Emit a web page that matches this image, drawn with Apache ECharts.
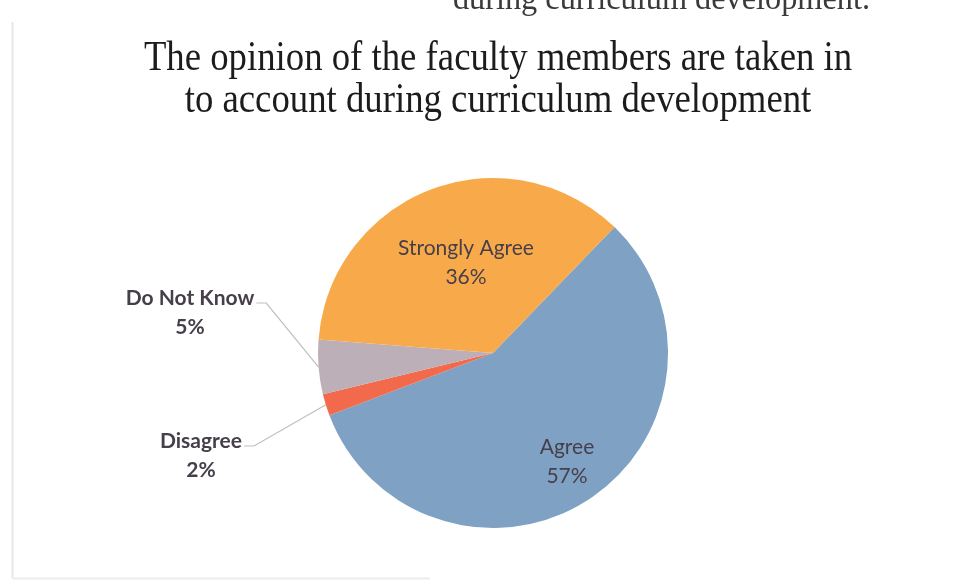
<!DOCTYPE html>
<html>
<head>
<meta charset="utf-8">
<script src="https://cdn.jsdelivr.net/npm/echarts@6/dist/echarts.min.js"></script>
<style>
  html, body { margin: 0; padding: 0; background: #ffffff; }
  #chart { width: 958px; height: 584px; }
</style>
</head>
<body>
<div id="chart"></div>
<script>
// Survey responses, in clockwise drawing order
const categories = ['Agree', 'Disagree', 'Do Not Know', 'Strongly Agree'];
const percentages = [57, 2, 5, 36];
const sliceColors = ['#7fa1c3', '#f2694c', '#bcafb7', '#f8aa4b'];
const titleLines = [
  'The opinion of the faculty members are taken in',
  'to account during curriculum development'
];
const captionAbove = 'during curriculum development.';

// Where each label sits and whether it is drawn inside the slice
const labelSpots = {
  'Agree':          { x: 567, y: 462, inside: true },
  'Strongly Agree': { x: 466, y: 263, inside: true },
  'Do Not Know':    { x: 190, y: 313, inside: false },
  'Disagree':       { x: 201, y: 456, inside: false }
};

const chart = echarts.init(document.getElementById('chart'), null, { renderer: 'canvas' });

const labelFont = 'Lato, "Open Sans", sans-serif';
const serifFont = '"Liberation Serif", "Times New Roman", serif';

const pieData = categories.map((name, i) => {
  const spot = labelSpots[name];
  return {
    name: name,
    value: percentages[i],
    itemStyle: { color: sliceColors[i] },
    label: {
      show: true,
      position: spot.inside ? 'inside' : 'outside',
      fontWeight: spot.inside ? 'normal' : 'bold',
      fontSize: 21
    },
    labelLine: { show: !spot.inside }
  };
});

// Title: tall, narrow serif lines centred over the pie
const titleGraphics = titleLines.map((line, i) => ({
  type: 'text',
  x: 498,
  y: 59 + i * 42,
  scaleX: 0.875,
  silent: true,
  style: {
    text: line,
    font: '42px ' + serifFont,
    fill: '#1c1c1c',
    align: 'center',
    verticalAlign: 'middle'
  }
}));

chart.setOption({
  animation: false,
  backgroundColor: '#ffffff',
  graphic: titleGraphics.concat([
    {
      type: 'text',
      x: 870,
      y: 0,
      scaleX: 0.95,
      silent: true,
      style: {
        text: captionAbove,
        font: '34px ' + serifFont,
        fill: '#3a3a3a',
        align: 'right',
        verticalAlign: 'middle'
      }
    },
    {
      type: 'line',
      shape: { x1: 12.5, y1: 22, x2: 12.5, y2: 578 },
      style: { stroke: '#e8e8e8', lineWidth: 2 },
      silent: true
    },
    {
      type: 'line',
      shape: { x1: 12, y1: 578.5, x2: 430, y2: 578.5 },
      style: { stroke: '#ececec', lineWidth: 2 },
      silent: true
    }
  ]),
  series: [{
    type: 'pie',
    center: [493, 353],
    radius: 175,
    startAngle: 46,
    clockwise: true,
    avoidLabelOverlap: false,
    data: pieData,
    label: {
      formatter: '{b}\n{c}%',
      fontFamily: labelFont,
      color: '#463f4a',
      lineHeight: 29,
      align: 'center'
    },
    labelLine: {
      length: 20,
      length2: 10,
      lineStyle: { color: '#bfbfbf', width: 1.2 }
    },
    labelLayout: function (params) {
      const name = categories[params.dataIndex];
      const spot = labelSpots[name];
      const out = { x: spot.x, y: spot.y, align: 'center', verticalAlign: 'middle' };
      if (!spot.inside && params.labelLinePoints) {
        const edge = params.labelLinePoints[0];
        const textRight = spot.x + params.labelRect.width / 2 + 2;
        const lineY = spot.y - 10;
        out.labelLinePoints = [
          edge,
          [textRight + 10, lineY],
          [textRight, lineY]
        ];
      }
      return out;
    }
  }]
});
</script>
</body>
</html>
